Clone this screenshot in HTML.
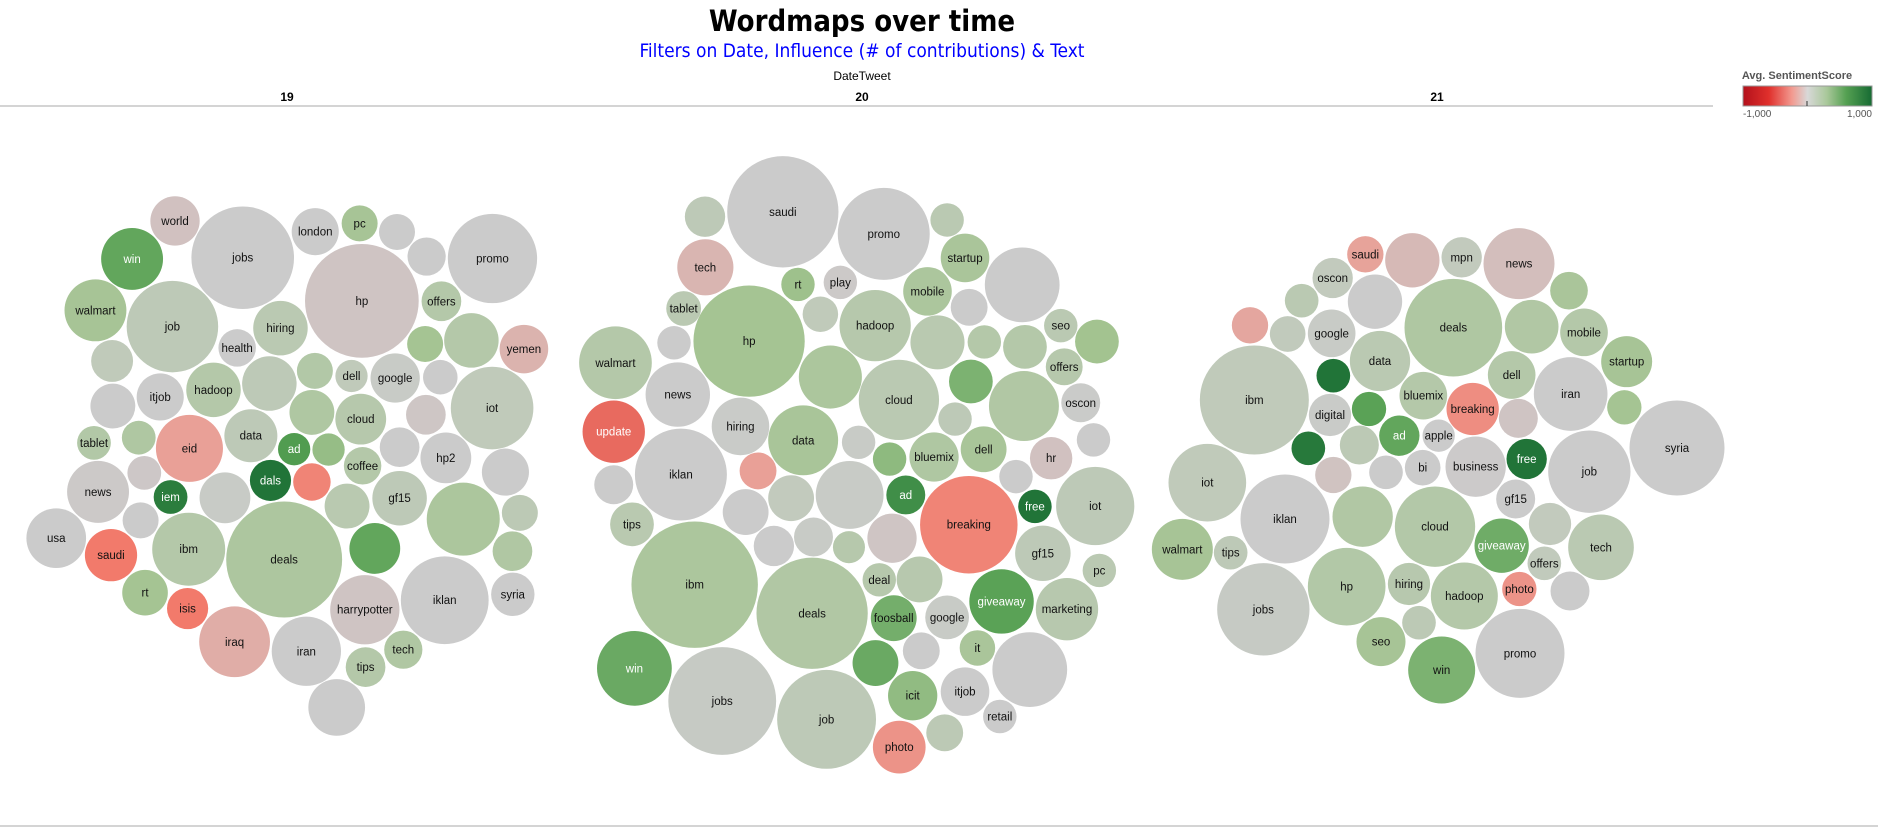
<!DOCTYPE html>
<html><head><meta charset="utf-8"><style>
html,body{margin:0;padding:0;background:#fff;}
body{width:1878px;height:827px;overflow:hidden;font-family:"Liberation Sans",sans-serif;}
</style></head><body>
<svg id="chart" width="1878" height="827" viewBox="0 0 1878 827" xmlns="http://www.w3.org/2000/svg">
<defs>
<linearGradient id="lg" x1="0" x2="1" y1="0" y2="0">
<stop offset="0" stop-color="#b3111b"/><stop offset="0.2" stop-color="#e0302c"/><stop offset="0.38" stop-color="#f29a90"/><stop offset="0.5" stop-color="#d8d8d8"/><stop offset="0.65" stop-color="#a9c89a"/><stop offset="0.8" stop-color="#55a052"/><stop offset="1" stop-color="#166b33"/>
</linearGradient>
</defs>
<text x="862" y="31" text-anchor="middle" font-size="29" font-weight="bold" fill="#000" font-family="DejaVu Sans Condensed, Liberation Sans, sans-serif">Wordmaps over time</text>
<text x="862" y="57" text-anchor="middle" font-size="19" fill="#0000ff" font-family="DejaVu Sans Condensed, Liberation Sans, sans-serif">Filters on Date, Influence (# of contributions) &amp; Text</text>
<text x="862" y="80" text-anchor="middle" font-size="12" fill="#000">DateTweet</text>
<text x="287" y="101" text-anchor="middle" font-size="12" font-weight="bold" fill="#000">19</text>
<text x="862" y="101" text-anchor="middle" font-size="12" font-weight="bold" fill="#000">20</text>
<text x="1437" y="101" text-anchor="middle" font-size="12" font-weight="bold" fill="#000">21</text>
<line x1="0" y1="106" x2="1713" y2="106" stroke="#d4d4d4" stroke-width="2"/>
<line x1="0" y1="826" x2="1878" y2="826" stroke="#d4d4d4" stroke-width="2"/>
<g>
<text x="1797" y="79" text-anchor="middle" font-size="11" font-weight="bold" fill="#555">Avg. SentimentScore</text>
<rect x="1743" y="86" width="129" height="20" fill="url(#lg)" stroke="#999" stroke-width="1"/>
<line x1="1807" y1="101" x2="1807" y2="106" stroke="#333"/>
<text x="1743" y="117" font-size="10" fill="#555">-1,000</text>
<text x="1872" y="117" text-anchor="end" font-size="10" fill="#555">1,000</text>
</g>
<g id="bubbles"></g>
</svg>
<script>
// Panel layouts (packed positions) and values: [x, y, sizeRadius, word, sentiment]
const panel19Words = ['world','win','jobs','london','pc','','','promo','walmart','job','hiring','hp','offers','health','','','yemen','','itjob','','hadoop','','','dell','google','','iot','','cloud','','tablet','','eid','data','ad','','coffee','','hp2','','news','','iem','','dals','','','gf15','','','usa','','saudi','ibm','deals','','','rt','isis','harrypotter','iklan','syria','iraq','iran','tips','tech',''];
const panel19Size = [68,85,140,65,50,50,53,122,85,125,75,155,55,52,50,75,67,58,65,62,75,75,50,45,68,48,113,62,70,55,47,47,92,73,45,45,52,55,70,65,85,47,47,70,57,52,62,75,100,50,82,50,72,100,158,70,55,63,57,95,120,60,97,95,55,53,78];
const panel19Sentiment = [-80,650,0,0,350,0,0,0,350,120,150,-60,200,0,380,200,-200,100,0,0,200,120,220,100,30,0,100,260,180,-40,220,260,-350,120,720,450,200,0,0,0,-20,-30,900,30,950,-500,160,120,300,130,0,0,-550,200,280,650,250,380,-550,-60,0,0,-250,0,200,250,0];
const panel19X = [473,357,656,852,972,1073,1153,1331,258,466,758,978,1193,641,1149,1274,1416,303,433,305,577,728,851,950,1068,1190,1330,843,975,1151,254,375,512,678,795,888,980,1080,1205,1366,265,390,461,608,731,843,938,1080,1252,1405,152,380,300,510,768,1013,1385,392,507,986,1202,1386,634,828,988,1090,910];
const panel19Y = [230,326,323,257,236,258,320,325,456,497,501,432,433,551,541,532,554,584,675,698,657,641,609,622,627,625,703,714,731,720,791,778,805,773,807,808,849,802,829,865,915,867,928,930,886,890,951,931,984,968,1032,987,1075,1060,1086,1058,1065,1170,1210,1213,1189,1174,1294,1318,1358,1314,1460];

const panel20Words = ['','saudi','promo','','tech','startup','rt','play','mobile','','tablet','hp','','hadoop','','seo','','','walmart','','','','','offers','news','cloud','','','oscon','update','hiring','data','','','iklan','','','','bluemix','dell','hr','','','','ad','breaking','','free','iot','tips','','','','','','gf15','pc','ibm','deals','deal','','foosball','google','giveaway','marketing','it','','win','jobs','','','job','icit','itjob','retail','','photo'];
const panel20Size = [60,163,135,50,83,72,50,50,72,110,52,163,53,105,55,50,65,50,107,93,80,50,65,55,95,118,65,103,58,92,85,103,50,50,135,55,50,50,73,68,63,58,100,68,58,143,50,50,115,65,68,60,58,48,73,82,50,185,163,50,68,68,65,95,92,53,110,110,158,68,55,145,73,72,50,55,78];
const panel20Sentiment = [120,0,0,150,-180,320,420,-20,300,0,150,380,100,180,0,150,400,0,200,300,160,200,200,180,0,150,550,240,10,-620,20,330,120,0,0,-350,30,480,260,330,-80,0,30,80,800,-500,0,950,120,160,0,0,30,180,-50,120,150,300,240,180,170,580,30,680,170,320,0,620,40,620,0,120,470,0,0,130,-420];
const panel20X = [392,618,911,1095,393,1147,662,785,1038,1313,330,520,727,886,1159,1425,1530,302,132,756,1067,1203,1321,1435,313,955,1164,1318,1483,127,495,677,1118,1520,322,546,838,928,1057,1201,1397,127,812,642,975,1158,1295,1350,1525,180,510,592,707,810,935,1373,1537,362,703,898,1015,940,1095,1253,1443,1183,1335,187,442,887,1020,745,995,1147,1248,1088,956];
const panel20Y = [188,176,230,196,312,289,354,349,371,355,413,493,427,455,410,455,494,497,546,581,496,495,507,556,624,637,592,652,644,715,702,736,684,735,820,811,741,782,777,758,780,845,870,878,870,943,825,898,897,942,912,995,973,998,976,1013,1055,1090,1160,1078,1077,1172,1170,1131,1150,1245,1298,1295,1375,1282,1252,1420,1362,1352,1413,1453,1488];

const panel21Words = ['saudi','','mpn','news','oscon','','','','deals','','','','google','mobile','startup','data','dell','','ibm','iran','bluemix','breaking','','digital','','','ad','apple','','','','','bi','business','free','job','syria','iot','iklan','','cloud','gf15','','giveaway','tech','walmart','tips','offers','photo','','jobs','hp','hiring','hadoop','','seo','win','promo'];
const panel21Size = [56,83,62,108,62,58,52,83,148,82,56,55,73,73,78,92,73,52,165,112,73,80,53,65,60,53,62,50,60,52,56,52,55,92,62,125,144,118,135,92,122,60,65,83,100,93,52,52,53,60,140,118,65,102,52,75,102,135];
const panel21Sentiment = [-330,-150,80,-110,80,320,150,0,260,240,-300,90,30,200,350,150,200,950,100,0,200,-450,680,20,-60,380,650,0,130,920,-70,0,0,-10,950,0,0,100,0,240,210,0,80,600,150,350,120,90,-420,0,40,220,170,200,130,350,550,0];
const panel21X = [646,787,935,1107,548,1257,455,675,910,1145,300,413,545,1302,1430,690,1085,550,313,1262,820,968,657,540,1105,1423,748,866,628,475,550,708,818,977,1130,1318,1581,172,405,638,855,1097,1200,1055,1353,97,242,1183,1108,1260,340,590,777,943,807,693,875,1110];
const panel21Y = [163,181,172,191,234,272,302,305,383,380,376,402,400,397,485,483,525,527,600,582,587,627,627,645,655,622,707,707,735,745,825,817,803,800,777,815,744,848,957,950,980,897,972,1037,1042,1048,1058,1090,1167,1173,1228,1160,1152,1188,1268,1325,1410,1360];

const panels = [
  {name:'19', words:panel19Words, size:panel19Size, sent:panel19Sentiment, xs:panel19X, ys:panel19Y, ox:0, oy:130, sx:0.370, sy:0.3955},
  {name:'20', words:panel20Words, size:panel20Size, sent:panel20Sentiment, xs:panel20X, ys:panel20Y, ox:570, oy:140, sx:0.3444, sy:0.408},
  {name:'21', words:panel21Words, size:panel21Size, sent:panel21Sentiment, xs:panel21X, ys:panel21Y, ox:1150, oy:200, sx:1/3, sy:1/3}
];

function hex(h){return [parseInt(h.slice(1,3),16),parseInt(h.slice(3,5),16),parseInt(h.slice(5,7),16)];}
const posStops=[[0,'#cbcbcb'],[0.2,'#b4c8a9'],[0.4,'#a3c390'],[0.7,'#55a052'],[1,'#166b33']];
const negStops=[[0,'#cbcbcb'],[0.15,'#d6b9b6'],[0.35,'#e9a097'],[0.55,'#f27a6b'],[1,'#b3111b']];
function colorScale(v){
  const t=Math.min(1,Math.abs(v)/1000);
  const st=v>=0?posStops:negStops;
  for(let i=1;i<st.length;i++){
    if(t<=st[i][0]){
      const a=hex(st[i-1][1]),b=hex(st[i][1]);
      const f=(t-st[i-1][0])/(st[i][0]-st[i-1][0]);
      return 'rgb('+a.map((c,k)=>Math.round(c+(b[k]-c)*f)).join(',')+')';
    }
  }
  return st[st.length-1][1];
}
const NS='http://www.w3.org/2000/svg';
const root=document.getElementById('bubbles');
panels.forEach(p=>{
  const g=document.createElementNS(NS,'g');
  
  
  root.appendChild(g);
  const xAxis=v=>p.ox+v*p.sx, yAxis=v=>p.oy+v*p.sy, rScale=v=>v*p.sx;
  p.words.forEach((w,i)=>{
    const cx=xAxis(p.xs[i]), cy=yAxis(p.ys[i]), r=rScale(p.size[i]);
    const c=document.createElementNS(NS,'circle');
    c.setAttribute('cx',cx);c.setAttribute('cy',cy);c.setAttribute('r',r-0.5);
    c.setAttribute('fill',colorScale(p.sent[i]));
    
    
    g.appendChild(c);
    if(w){
      const t=document.createElementNS(NS,'text');
      t.setAttribute('x',cx);t.setAttribute('y',cy+4);
      t.setAttribute('text-anchor','middle');t.setAttribute('font-size','11.5');
      t.setAttribute('fill',Math.abs(p.sent[i])>=600?'#fff':'#111');
      
      
      t.textContent=w;
      g.appendChild(t);
    }
  });
});
</script>
</body></html>
